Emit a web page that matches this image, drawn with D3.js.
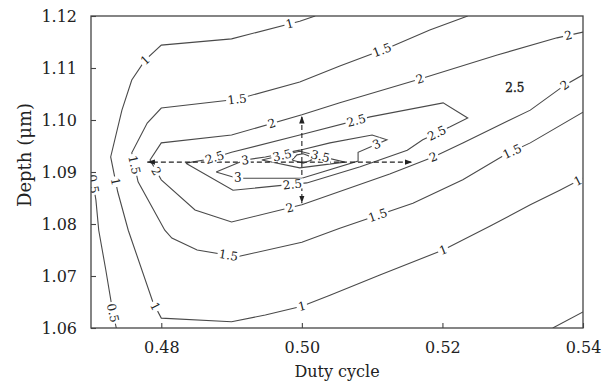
<!DOCTYPE html>
<html>
<head>
<meta charset="utf-8">
<script src="https://cdn.jsdelivr.net/npm/d3@7"></script>
<style>
  body { margin: 0; background: #fff; }
  svg { display: block; }
  text { font-family: "DejaVu Serif", serif; fill: #222; }
</style>
</head>
<body>
<svg id="chart" width="613" height="383"></svg>
<script>
// axis ticks
const xTicks = [0.48, 0.50, 0.52, 0.54];
const yTicks = [1.06, 1.07, 1.08, 1.09, 1.10, 1.11, 1.12];

// contour lines: [duty cycle, depth]
const contour05 = [[0.4700,1.0900],[0.4703,1.0879],[0.4707,1.0846],[0.4711,1.0788],[0.4721,1.0712],[0.4731,1.0631],[0.4736,1.0600]];
const contour1 = [[0.5019,1.1200],[0.4997,1.1190],[0.4900,1.1156],[0.4800,1.1144],[0.4777,1.1115],[0.4758,1.1077],[0.4744,1.1019],[0.4728,1.0929],[0.4738,1.0862],[0.4753,1.0788],[0.4788,1.0650],[0.4800,1.0619],[0.4900,1.0612],[0.4948,1.0625],[0.5000,1.0642],[0.5040,1.0663],[0.5111,1.0702],[0.5201,1.0750],[0.5268,1.0796],[0.5325,1.0837],[0.5367,1.0865],[0.5400,1.0888]];
const contour1b = [[0.5357,1.0600],[0.5400,1.0631]];
const contour15 = [[0.5236,1.1200],[0.5182,1.1173],[0.5125,1.1140],[0.5054,1.1104],[0.4997,1.1073],[0.4908,1.1040],[0.4800,1.1023],[0.4780,1.0994],[0.4758,1.0937],[0.4767,1.0881],[0.4805,1.0788],[0.4815,1.0773],[0.4851,1.0750],[0.4908,1.0737],[0.5000,1.0765],[0.5054,1.0792],[0.5158,1.0840],[0.5229,1.0885],[0.5289,1.0933],[0.5325,1.0956],[0.5400,1.1015]];
const contour2 = [[0.5400,1.1169],[0.5363,1.1158],[0.5278,1.1125],[0.5168,1.1079],[0.5054,1.1033],[0.5000,1.1010],[0.4900,1.0971],[0.4800,1.0956],[0.4784,1.0923],[0.4800,1.0885],[0.4848,1.0827],[0.4900,1.0804],[0.5000,1.0837],[0.5125,1.0896],[0.5187,1.0929],[0.5229,1.0956],[0.5325,1.1019],[0.5374,1.1067],[0.5400,1.1087]];
const contour25 = [[0.4835,1.0917],[0.4869,1.0925],[0.4900,1.0938],[0.4997,1.0971],[0.5097,1.1006],[0.5201,1.1033],[0.5236,1.1004],[0.5211,1.0987],[0.5172,1.0962],[0.5150,1.0942],[0.5083,1.0910],[0.5007,1.0879],[0.4902,1.0865],[0.4835,1.0917]];
const contour3 = [[0.4878,1.0900],[0.4919,1.0923],[0.4948,1.0929],[0.4997,1.0942],[0.5040,1.0956],[0.5100,1.0971],[0.5121,1.0962],[0.5080,1.0938],[0.5080,1.0921],[0.5000,1.0888],[0.4908,1.0888],[0.4878,1.0900]];
const contour35 = [[0.4943,1.0923],[0.4997,1.0940],[0.5061,1.0919],[0.4997,1.0908],[0.4943,1.0923]];
const contour4 = [[0.4986,1.0923],[0.4993,1.0933],[0.5002,1.0935],[0.5010,1.0931],[0.5014,1.0923],[0.5002,1.0917],[0.4986,1.0923]];

const contours = [
  { level: 0.5, pts: contour05 },
  { level: 1, pts: contour1 },
  { level: 1, pts: contour1b },
  { level: 1.5, pts: contour15 },
  { level: 2, pts: contour2 },
  { level: 2.5, pts: contour25 },
  { level: 3, pts: contour3 },
  { level: 3.5, pts: contour35 },
  { level: 4, pts: contour4 }
];

// label positions: [level, duty, depth]
const contourLabels = [
  [0.5, 0.4703, 1.0877], [0.5, 0.4731, 1.0629],
  [1, 0.4983, 1.1183], [1, 0.4777, 1.1115], [1, 0.4734, 1.0881], [1, 0.4792, 1.0642],
  [1, 0.5000, 1.0642], [1, 0.5201, 1.0750], [1, 0.5393, 1.0883],
  [1.5, 0.5114, 1.1135], [1.5, 0.4908, 1.1038], [1.5, 0.4760, 1.0913], [1.5, 0.4895, 1.0735],
  [1.5, 0.5107, 1.0821], [1.5, 0.5299, 1.0940],
  [2, 0.5379, 1.1163], [2, 0.5168, 1.1079], [2, 0.4958, 1.0990], [2, 0.4791, 1.0900],
  [2, 0.4983, 1.0829], [2, 0.5187, 1.0929], [2, 0.5374, 1.1067],
  [2.5, 0.4876, 1.0927], [2.5, 0.5078, 1.0996], [2.5, 0.5192, 1.0975], [2.5, 0.4987, 1.0871],
  [3, 0.4919, 1.0925], [3, 0.5108, 1.0948], [3, 0.4909, 1.0890],
  [3.5, 0.4972, 1.0932], [3.5, 0.5026, 1.0929]
];
const freeLabels = [["2.5", 0.5303, 1.1062]];

// dashed arrows from the optimum: [x1, y1, x2, y2]
const arrows = [
  [0.5000, 1.0919, 0.4780, 1.0919],
  [0.5000, 1.0919, 0.5157, 1.0919],
  [0.5000, 1.0919, 0.5000, 1.1008],
  [0.5000, 1.0919, 0.5000, 1.0840]
];

const width = 613, height = 383;
const margin = { top: 16, right: 30, bottom: 55, left: 91 };
const iw = width - margin.left - margin.right;
const ih = height - margin.top - margin.bottom;

const svg = d3.select("#chart");
const g = svg.append("g").attr("transform", `translate(${margin.left},${margin.top})`);

const x = d3.scaleLinear().domain([0.47, 0.54]).range([0, iw]);
const y = d3.scaleLinear().domain([1.06, 1.12]).range([ih, 0]);

svg.append("defs").append("marker")
  .attr("id", "head")
  .attr("viewBox", "0 0 10 10")
  .attr("refX", 10).attr("refY", 5)
  .attr("markerWidth", 7).attr("markerHeight", 7)
  .attr("orient", "auto")
  .append("path").attr("d", "M0,1.5L10,5L0,8.5Z").attr("fill", "#222");

g.append("clipPath").attr("id", "plotclip")
  .append("rect").attr("width", iw).attr("height", ih);

const line = d3.line().x(d => x(d[0])).y(d => y(d[1]));

const plot = g.append("g").attr("clip-path", "url(#plotclip)");

plot.selectAll("path.contour")
  .data(contours)
  .enter().append("path")
  .attr("class", "contour")
  .attr("d", d => line(d.pts))
  .attr("fill", "none")
  .attr("stroke", "#4a4a4a")
  .attr("stroke-width", 1.1);

plot.selectAll("line.arrow")
  .data(arrows)
  .enter().append("line")
  .attr("class", "arrow")
  .attr("x1", d => x(d[0])).attr("y1", d => y(d[1]))
  .attr("x2", d => x(d[2])).attr("y2", d => y(d[3]))
  .attr("stroke", "#222")
  .attr("stroke-width", 1.1)
  .attr("stroke-dasharray", "5,3")
  .attr("marker-end", "url(#head)");

// snap a label onto the nearest segment of its level and take that segment's angle
function placeLabel(lv) {
  const px = x(lv[1]), py = y(lv[2]);
  let best = null;
  contours.filter(c => c.level === lv[0]).forEach(c => {
    for (let i = 0; i < c.pts.length - 1; i++) {
      const ax = x(c.pts[i][0]), ay = y(c.pts[i][1]);
      const bx = x(c.pts[i + 1][0]), by = y(c.pts[i + 1][1]);
      const dx = bx - ax, dy = by - ay;
      const len2 = dx * dx + dy * dy || 1;
      const t = Math.max(0, Math.min(1, ((px - ax) * dx + (py - ay) * dy) / len2));
      const qx = ax + t * dx, qy = ay + t * dy;
      const dist = Math.hypot(px - qx, py - qy);
      if (!best || dist < best.dist) {
        let ang = Math.atan2(dy, dx) * 180 / Math.PI;
        if (ang > 90) ang -= 180;
        if (ang < -90) ang += 180;
        best = { dist, x: qx, y: qy, ang };
      }
    }
  });
  return best;
}

// each label: a white gap box cut into the line, then the number
const labelG = plot.selectAll("g.clabel")
  .data(contourLabels)
  .enter().append("g")
  .attr("class", "clabel")
  .attr("transform", d => {
    const p = placeLabel(d);
    return `translate(${p.x},${p.y}) rotate(${p.ang})`;
  });

labelG.append("rect").attr("fill", "#fff");

labelG.append("text")
  .attr("text-anchor", "middle")
  .attr("dy", "0.35em")
  .attr("font-size", 12)
  .text(d => String(d[0]))
  .each(function() {
    const w = this.getComputedTextLength() + 3;
    d3.select(this.parentNode).select("rect")
      .attr("x", -w / 2).attr("y", -5).attr("width", w).attr("height", 10);
  });

plot.selectAll("text.flabel")
  .data(freeLabels)
  .enter().append("text")
  .attr("class", "flabel")
  .attr("x", d => x(d[1])).attr("y", d => y(d[2]))
  .attr("text-anchor", "middle")
  .attr("dy", "0.35em")
  .attr("font-size", 12)
  .attr("stroke", "#222")
  .attr("stroke-width", 0.4)
  .text(d => d[0]);

// axes with inward ticks
const xAxis = d3.axisBottom(x).tickValues(xTicks).tickFormat(d3.format(".2f"))
  .tickSizeInner(-5).tickSizeOuter(0).tickPadding(14);
const yAxis = d3.axisLeft(y).tickValues(yTicks).tickFormat(d3.format(".2f"))
  .tickSizeInner(-5).tickSizeOuter(0).tickPadding(14);

const gx = g.append("g").attr("transform", `translate(0,${ih})`).call(xAxis);
const gy = g.append("g").call(yAxis);
[gx, gy].forEach(a => {
  a.select(".domain").remove();
  a.selectAll(".tick line").attr("stroke", "#444").attr("stroke-width", 1.1);
  a.selectAll(".tick text").attr("font-size", 16).attr("font-family", "DejaVu Serif, serif").attr("fill", "#222");
});

g.append("rect")
  .attr("width", iw).attr("height", ih)
  .attr("fill", "none")
  .attr("stroke", "#444")
  .attr("stroke-width", 1.3);

svg.append("text")
  .attr("x", margin.left + iw / 2).attr("y", 377)
  .attr("text-anchor", "middle")
  .attr("font-size", 16)
  .text("Duty cycle");

svg.append("text")
  .attr("transform", `translate(31,155) rotate(-90)`)
  .attr("text-anchor", "middle")
  .attr("font-size", 18)
  .text("Depth (μm)");
</script>
</body>
</html>
